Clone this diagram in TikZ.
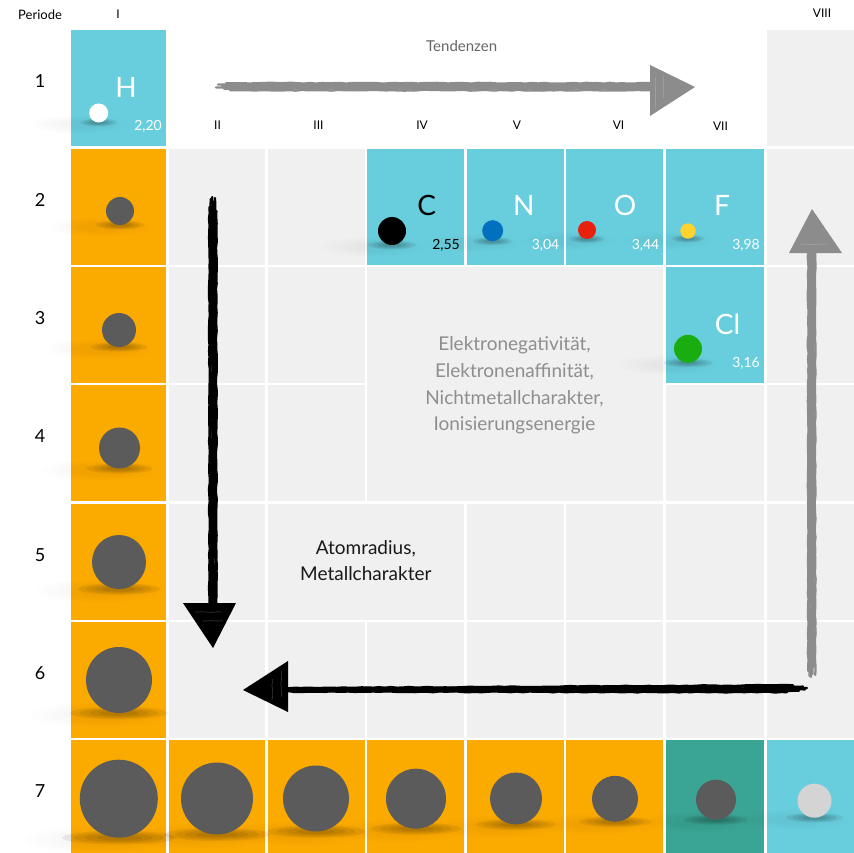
\documentclass[tikz,border=0pt]{standalone}
\usepackage{fontspec}
\setmainfont{Lato}
\usetikzlibrary{calc,decorations.pathmorphing}
\definecolor{cyanc}{HTML}{68CEDD}
\definecolor{orangec}{HTML}{FBAB00}
\definecolor{grayc}{HTML}{F0F0F0}
\definecolor{tealc}{HTML}{3BA595}
\definecolor{ballc}{HTML}{5B5B5B}
\definecolor{arrowg}{HTML}{8C8C8C}
\definecolor{trendtxt}{HTML}{8E8E8E}
\definecolor{nblue}{HTML}{0070BF}
\definecolor{ored}{HTML}{E8200E}
\definecolor{fyellow}{HTML}{FDD330}
\definecolor{clgreen}{HTML}{19AD0F}
\definecolor{lightball}{HTML}{D4D4D4}
\newcommand\cellfill[5]{%
  \pgfmathsetmacro\xa{{71,169,267.5,367,467,566,666,767}[#1]}%
  \pgfmathsetmacro\xb{{166,265,364.5,464,563.5,663,764,854}[#3]}%
  \pgfmathsetmacro\ya{{30,149,267,385,503.5,622,740}[#2]}%
  \pgfmathsetmacro\yb{{146,264.5,383,501,619.5,737.5,853}[#4]}%
  \fill[#5] (\xa,\ya) rectangle (\xb,\yb);}
\newcommand\shadowat[3]{%
  \foreach \k in {1,0.85,0.7,0.55,0.4}{\fill[black,opacity=0.009] ({#1-18},{#2+#3+2}) ellipse ({\k*(40+0.9*#3)} and {\k*(8+0.15*#3)});}
  \foreach \k in {1,0.8,0.6,0.4}{\fill[black,opacity=0.065] (#1,{#2+#3}) ellipse ({\k*(1.3*#3+6)} and {\k*(3+0.1*#3)});}}
\begin{document}
\begin{tikzpicture}[x=1pt,y=-1pt,
  sym/.style={anchor=base,inner sep=0,font=\fontsize{28}{30}\selectfont,text=white},
  val/.style={anchor=base east,inner sep=0,font=\fontsize{14}{16}\selectfont,text=white},
  rownum/.style={anchor=base,inner sep=0,font=\fontsize{18}{20}\selectfont},
  roman/.style={anchor=base,inner sep=0,font=\fontsize{12}{14}\selectfont},
  trendline/.style={anchor=base,inner sep=0,font=\fontsize{19}{22}\selectfont,text=trendtxt},
  atomline/.style={anchor=base,inner sep=0,font=\fontsize{19}{22}\selectfont,text=black!90},
  brush/.style={line width=2.3pt,line cap=round,decorate,decoration={random steps,segment length=6pt,amplitude=0.45pt}},
  scratch/.style={draw=white,opacity=0.22,line width=0.6pt,decorate,decoration={random steps,segment length=3pt,amplitude=0.4pt}}]
\pgfmathsetseed{11}
\useasboundingbox (0,0) rectangle (854,853);
\fill[white] (0,0) rectangle (854,853);
% ---- cells
\cellfill{0}{0}{0}{0}{cyanc}
\cellfill{7}{0}{7}{0}{grayc}
\foreach \r in {1,...,5}{\cellfill{0}{\r}{0}{\r}{orangec}}
\foreach \c in {0,...,5}{\cellfill{\c}{6}{\c}{6}{orangec}}
\cellfill{6}{6}{6}{6}{tealc}
\cellfill{7}{6}{7}{6}{cyanc}
\foreach \r in {1,...,5}{\cellfill{1}{\r}{1}{\r}{grayc}\cellfill{7}{\r}{7}{\r}{grayc}}
\cellfill{2}{1}{2}{1}{grayc}
\cellfill{2}{2}{2}{2}{grayc}
\cellfill{2}{3}{2}{3}{grayc}
\foreach \c in {3,...,6}{\cellfill{\c}{1}{\c}{1}{cyanc}}
\cellfill{3}{2}{5}{3}{grayc}
\cellfill{6}{2}{6}{2}{cyanc}
\cellfill{6}{3}{6}{3}{grayc}
\cellfill{2}{4}{3}{4}{grayc}
\foreach \c in {4,5,6}{\cellfill{\c}{4}{\c}{4}{grayc}}
\foreach \c in {2,...,6}{\cellfill{\c}{5}{\c}{5}{grayc}}
% ---- shadows
\foreach \x/\y/\r in {98.7/113/9.5, 120/211/14, 119/330/17, 119.5/448/20.5, 119/562/27, 119/680/33,
  118.8/798.7/39, 217/798.5/36, 316/798.5/33, 416/798.7/30, 516/798.5/26, 615/798.8/23, 716/799.7/20, 814.5/800.7/17,
  392/231/14, 492.7/230.7/10.5, 587/230/9, 688/231/7.7, 688/348.8/14}{\shadowat{\x}{\y}{\r}}
% ---- balls
\foreach \x/\y/\r/\c in {98.7/113/9.5/white, 120/211/14/ballc, 119/330/17/ballc, 119.5/448/20.5/ballc, 119/562/27/ballc, 119/680/33/ballc,
  118.8/798.7/39/ballc, 217/798.5/36/ballc, 316/798.5/33/ballc, 416/798.7/30/ballc, 516/798.5/26/ballc, 615/798.8/23/ballc, 716/799.7/20/ballc, 814.5/800.7/17/lightball,
  392/231/14/black, 492.7/230.7/10.5/nblue, 587/230/9/ored, 688/231/7.7/fyellow, 688/348.8/14/clgreen}{\fill[\c] (\x,\y) circle (\r);}
% ---- arrow right (gray)
\coordinate (rA) at (218,87); \coordinate (rB) at (652,87);
\coordinate (rH1) at (650,65); \coordinate (rH2) at (650,116); \coordinate (rTip) at (695,87);
\foreach \o/\s in {-3.8/8,-2.4/0,-1/4,0.4/-2,1.8/6,3.2/12}{\draw[brush,arrowg] ($(rA)+(\s,\o)$) -- ($(rB)+(0,\o)$);}
\fill[arrowg] (rH1) -- (rTip) -- (rH2) -- cycle;
\draw[scratch] ($(rH1)!0.3!(rTip)+(0,4)$) -- ($(rH2)!0.3!(rTip)+(0,-10)$);
\draw[scratch] ($(rH1)!0.12!(rTip)+(0,10)$) -- ($(rH2)!0.12!(rTip)+(0,-4)$);
% ---- arrow down (black)
\coordinate (dA) at (213,197); \coordinate (dB) at (213,605);
\coordinate (dH1) at (183,603); \coordinate (dH2) at (236,603); \coordinate (dTip) at (213,648);
\foreach \o/\s in {-3.6/10,-2.2/2,-0.8/0,0.6/5,2/1,3.4/14}{\draw[brush,black] ($(dA)+(\o,\s)$) -- ($(dB)+(\o,0)$);}
\fill[black] (dH1) -- (dTip) -- (dH2) -- cycle;
\draw[scratch] ($(dH1)!0.2!(dTip)+(6,0)$) -- ($(dH2)!0.2!(dTip)+(-10,0)$);
\draw[scratch] ($(dH1)!0.4!(dTip)+(8,0)$) -- ($(dH2)!0.4!(dTip)+(-4,0)$);
% ---- arrow left (black)
\coordinate (lA) at (807,689); \coordinate (lB) at (286,690);
\coordinate (lH1) at (288,661); \coordinate (lH2) at (288,712); \coordinate (lTip) at (243,690);
\foreach \o/\s in {-3.8/-14,-2.4/-4,-1/0,0.4/-2,1.8/-8,3.2/-20}{\draw[brush,black] ($(lA)+(\s,\o)$) -- ($(lB)+(0,0.5*\o)$);}
\fill[black] (lH1) -- (lTip) -- (lH2) -- cycle;
\draw[scratch] ($(lH1)!0.15!(lTip)+(0,5)$) -- ($(lH2)!0.15!(lTip)+(0,-12)$);
\draw[scratch] ($(lH1)!0.35!(lTip)+(0,8)$) -- ($(lH2)!0.35!(lTip)+(0,-5)$);
% ---- arrow up (gray)
\coordinate (uA) at (812,677); \coordinate (uB) at (812,252);
\coordinate (uH1) at (789,253); \coordinate (uH2) at (842,253); \coordinate (uTip) at (812,209);
\foreach \o/\s in {-3.8/-6,-2.4/-1,-1/0,0.4/-3,1.8/-10,3.2/-2}{\draw[brush,arrowg] ($(uA)+(\o,\s)$) -- ($(uB)+(\o,0)$);}
\fill[arrowg] (uH1) -- (uTip) -- (uH2) -- cycle;
\draw[scratch] ($(uH1)!0.2!(uTip)+(6,0)$) -- ($(uH2)!0.2!(uTip)+(-9,0)$);
% ---- header texts
\node[anchor=base west,inner sep=0,font=\fontsize{13}{15}\selectfont] (periode) at (18,19.3) {Periode};
\node[roman] (cI) at (118,18.3) {I};
\node[roman] (cVIII) at (822,18) {VIII};
\node[roman] (cII) at (217.5,130) {II};
\node[roman] (cIII) at (318.5,130) {III};
\node[roman] (cIV) at (422,130) {IV};
\node[roman] (cV) at (517,130) {V};
\node[roman] (cVI) at (618.5,130) {VI};
\node[roman] (cVII) at (720.5,131) {VII};
\node[anchor=base west,inner sep=0,font=\fontsize{15}{17}\selectfont,text=black!60] (tend) at (426,52) {Tendenzen};
% ---- row numbers
\foreach \n/\y in {1/87.5,2/206.5,3/324.5,4/442.5,5/561,6/679.5,7/797.5}{\node[rownum] (p\n) at (40,\y) {\n};}
% ---- element symbols and values
\node[sym] (H) at (126,98) {H};
\node[val] (Hv) at (162,131) {2,20};
\node[sym,text=black] (C) at (426.7,216) {C};
\node[val,text=black] (Cv) at (460,249) {2,55};
\node[sym] (N) at (523.7,216) {N};
\node[val] (Nv) at (559.5,249) {3,04};
\node[sym] (O) at (625,216) {O};
\node[val] (Ov) at (659.5,249) {3,44};
\node[sym] (F) at (722,216) {F};
\node[val] (Fv) at (760,249) {3,98};
\node[sym] (Cl) at (727.5,334.3) {Cl};
\node[val] (Clv) at (760,367.7) {3,16};
% ---- trend texts
\node[trendline] (t1) at (514.5,350.7) {Elektronegativität,};
\node[trendline] (t2) at (514.5,377.3) {Elektronenaffinität,};
\node[trendline] (t3) at (514.5,404) {Nichtmetallcharakter,};
\node[trendline] (t4) at (514.5,430) {Ionisierungsenergie};
\node[atomline] (a1) at (365.8,554.3) {Atomradius,};
\node[atomline] (a2) at (365.8,580.7) {Metallcharakter};
\end{tikzpicture}
\end{document}
